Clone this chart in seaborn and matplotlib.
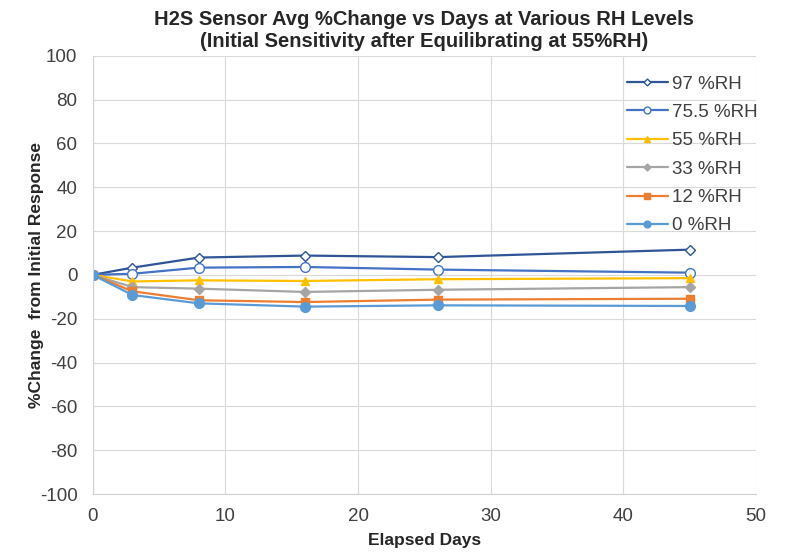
import matplotlib
matplotlib.use("Agg")
import matplotlib.pyplot as plt
import seaborn as sns
import pandas as pd

# data
days = [0, 3, 8, 16, 26, 45]
rh_labels = ["97 %RH", "75.5 %RH", "55 %RH", "33 %RH", "12 %RH", "0 %RH"]
rh_97 = [0, 3.3, 7.9, 8.8, 8.1, 11.5]
rh_75 = [0, 0.5, 3.3, 3.6, 2.4, 1.0]
rh_55 = [0, -3.0, -2.5, -2.8, -2.0, -1.5]
rh_33 = [0, -5.6, -6.3, -7.8, -6.8, -5.6]
rh_12 = [0, -7.5, -11.6, -12.4, -11.3, -10.9]
rh_0 = [0, -9.2, -13.0, -14.5, -13.9, -14.2]

series = [rh_97, rh_75, rh_55, rh_33, rh_12, rh_0]
colors = ["#2F5597", "#4472C4", "#FFC000", "#A5A5A5", "#ED7D31", "#5B9BD5"]
markers = ["D", "o", "^", "D", "s", "o"]
msizes = [5, 7, 6, 5, 6, 7]
filled = [False, False, True, True, True, True]

sns.set_style("whitegrid")
plt.rcParams['font.family'] = ['Liberation Sans', 'DejaVu Sans']
plt.rcParams['axes.unicode_minus'] = False

fig, ax = plt.subplots(figsize=(7.9, 5.56), dpi=100)

for lab, vals, c, m, ms, f in zip(rh_labels, series, colors, markers, msizes, filled):
    df = pd.DataFrame({"days": days, "val": vals})
    sns.lineplot(data=df, x="days", y="val", ax=ax, color=c, marker=m,
                 markersize=ms, linewidth=1.6, label=lab,
                 markerfacecolor=(c if f else "white"), markeredgecolor=c,
                 markeredgewidth=1.0)

ax.set_xlim(0, 50)
ax.set_ylim(-100, 100)
ax.set_xticks(range(0, 51, 10))
ax.set_yticks(range(-100, 101, 20))
ax.tick_params(axis="both", labelsize=13.5, length=0, colors="#404040")
ax.tick_params(axis="y", pad=11)
ax.tick_params(axis="x", pad=10)
ax.grid(True, color="#D9D9D9", linewidth=0.8)
for s in ax.spines.values():
    s.set_visible(False)
ax.spines["left"].set_visible(True)
ax.spines["left"].set_color("#D0D0D0")
ax.spines["bottom"].set_visible(True)
ax.spines["bottom"].set_color("#D0D0D0")

ax.set_xlabel("Elapsed Days", fontsize=12.5, fontweight="bold", color="#262626",
              labelpad=6)
ax.set_ylabel("%Change  from Initial Response", fontsize=12.5, fontweight="bold",
              color="#262626", labelpad=-3)
ax.set_title("H2S Sensor Avg %Change vs Days at Various RH Levels\n"
             "(Initial Sensitivity after Equilibrating at 55%RH)",
             fontsize=14.5, fontweight="bold", color="#262626", pad=6)

leg = ax.legend(loc="upper right", bbox_to_anchor=(1.013, 0.972), frameon=False,
                fontsize=13.5, handlelength=2.2, labelspacing=0.6,
                borderaxespad=0, handletextpad=0.2, markerscale=0.7)
for t in leg.get_texts():
    t.set_color("#404040")

fig.subplots_adjust(left=0.1173, right=0.957, top=0.8998, bottom=0.1115)
fig.savefig("out.png", dpi=100)
